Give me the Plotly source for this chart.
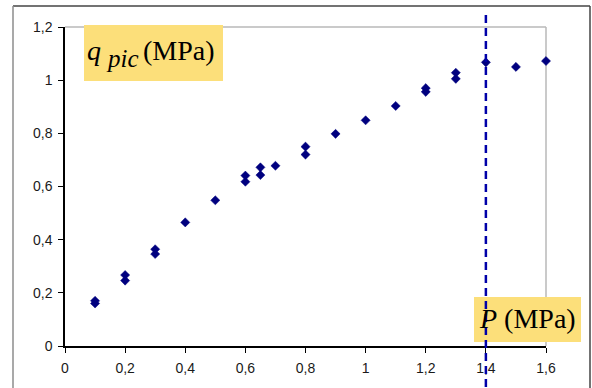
import plotly.graph_objects as go

# Peak shear stress q_pic versus confining pressure P (both in MPa)
pressure = [0.1, 0.1, 0.2, 0.2, 0.3, 0.3, 0.4, 0.5, 0.6, 0.6, 0.65, 0.65, 0.7,
            0.8, 0.8, 0.9, 1.0, 1.1, 1.2, 1.2, 1.3, 1.3, 1.4, 1.5, 1.6]
q_pic = [0.170, 0.160, 0.267, 0.246, 0.364, 0.346, 0.465, 0.548, 0.641, 0.618,
         0.672, 0.643, 0.678, 0.750, 0.720, 0.798, 0.849, 0.903, 0.970, 0.956,
         1.028, 1.005, 1.067, 1.050, 1.072]
x_ticks = [0, 0.2, 0.4, 0.6, 0.8, 1.0, 1.2, 1.4, 1.6]
y_ticks = [0, 0.2, 0.4, 0.6, 0.8, 1.0, 1.2]
p_threshold = 1.4

W, H = 592, 388
ML, MR, MT, MB = 65, 46, 27, 42
PW, PH = W - ML - MR, H - MT - MB


def px(x):
    return (x - ML) / PW


def py(y):
    return (H - MB - y) / PH


fig = go.Figure()
fig.add_trace(go.Scatter(
    x=pressure, y=q_pic, mode="markers",
    marker=dict(symbol="diamond", size=7, color="#00007F",
                line=dict(width=0.5, color="#00007F")),
    cliponaxis=False, showlegend=False,
))

shapes = []
# light grey top/right border of the plotting area
shapes.append(dict(type="line", xref="paper", yref="paper", x0=0, x1=1, y0=1, y1=1,
                   line=dict(color="#B8B8B8", width=1.5), layer="below"))
shapes.append(dict(type="line", xref="paper", yref="paper", x0=1, x1=1, y0=0, y1=1,
                   line=dict(color="#B8B8B8", width=1.5), layer="below"))
# outer chart frame
shapes.append(dict(type="line", xref="paper", yref="paper", x0=px(13), x1=px(590),
                   y0=py(6), y1=py(6), line=dict(color="#444444", width=1.5)))
shapes.append(dict(type="line", xref="paper", yref="paper", x0=px(13), x1=px(13),
                   y0=py(6), y1=py(400), line=dict(color="#8C8C8C", width=1.5)))
shapes.append(dict(type="line", xref="paper", yref="paper", x0=px(590), x1=px(590),
                   y0=py(6), y1=py(400), line=dict(color="#444444", width=1.5)))
# yellow label boxes
shapes.append(dict(type="rect", xref="paper", yref="paper",
                   x0=px(84), x1=px(223), y0=py(81), y1=py(25),
                   fillcolor="#FCDF7A", line=dict(width=0), layer="above"))
shapes.append(dict(type="rect", xref="paper", yref="paper",
                   x0=px(474), x1=px(581), y0=py(342), y1=py(297),
                   fillcolor="#FCDF7A", line=dict(width=0), layer="above"))
# vertical dashed line at P = 1.4 MPa
shapes.append(dict(type="line", xref="x", yref="paper", x0=p_threshold, x1=p_threshold,
                   y0=py(15), y1=py(392),
                   line=dict(color="#0000A8", width=2.5, dash="8px,5px"), layer="above"))

label_font = dict(family="Liberation Serif", size=28, color="#000000")
sub_font = dict(family="Liberation Serif", size=25, color="#000000")


def label(text, x, y, font, anchor="left"):
    return dict(xref="paper", yref="paper", x=x, y=y, xanchor=anchor,
                yanchor="middle", showarrow=False, text=text, font=font)


annotations = [
    label("<i>q</i>", px(85), py(50), label_font),
    label("<i>pic</i>", px(104), py(59), sub_font),
    label("(MPa)", px(141), py(50), label_font),
    label("<i>P</i> (MPa)", (px(474) + px(581)) / 2, py(318), label_font, "center"),
]

axis_font = dict(family="Liberation Sans", size=14, color="#1A1A1A")
fig.update_layout(
    width=W, height=H,
    margin=dict(l=ML, r=MR, t=MT, b=MB),
    paper_bgcolor="white", plot_bgcolor="rgba(0,0,0,0)",
    separators=", ",
    shapes=shapes, annotations=annotations,
    xaxis=dict(range=[0, 1.6], tickvals=x_ticks, showgrid=False, zeroline=False,
               showline=True, linecolor="#000000", linewidth=1.5,
               ticks="outside", ticklen=5, tickcolor="#000000", tickwidth=1,
               ticklabelstandoff=3, tickfont=axis_font),
    yaxis=dict(range=[0, 1.2], tickvals=y_ticks, showgrid=False, zeroline=False,
               showline=True, linecolor="#000000", linewidth=1.5,
               ticks="outside", ticklen=5, tickcolor="#000000", tickwidth=1,
               ticklabelstandoff=3, tickfont=axis_font),
)

fig.write_html("out.html")
